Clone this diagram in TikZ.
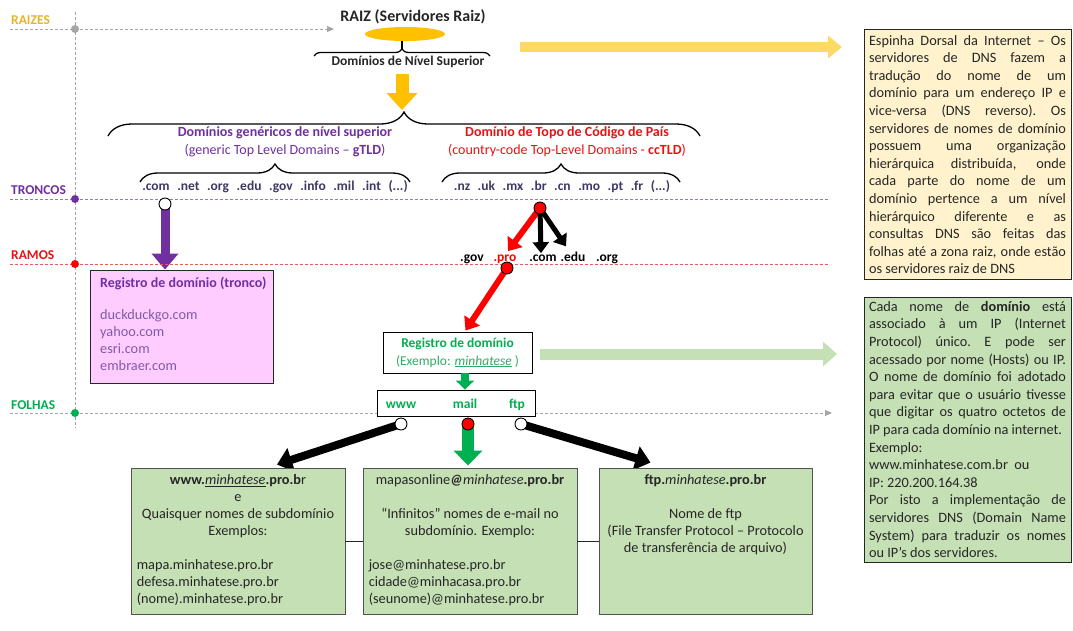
\documentclass[tikz,border=0pt]{standalone}
\usepackage{fontspec}
\setmainfont{Carlito}
\usetikzlibrary{arrows.meta,decorations.pathreplacing,calc,shapes.geometric}
\pgfdeclarelayer{back}
\pgfsetlayers{back,main}
\definecolor{cgold}{RGB}{230,180,40}
\definecolor{cyel}{RGB}{255,192,0}
\definecolor{cyellt}{RGB}{255,217,102}
\definecolor{cpur}{RGB}{112,48,160}
\definecolor{cpurlt}{RGB}{128,90,170}
\definecolor{cpurdash}{RGB}{150,120,190}
\definecolor{cred}{RGB}{230,20,20}
\definecolor{creddash}{RGB}{235,90,90}
\definecolor{cgrn}{RGB}{0,176,80}
\definecolor{cgrn2}{RGB}{50,170,100}
\definecolor{cgrnlt}{RGB}{197,224,180}
\definecolor{cpink}{RGB}{255,204,255}
\definecolor{ccream}{RGB}{255,242,204}
\definecolor{ctxt}{RGB}{38,38,38}
\definecolor{cdash}{RGB}{166,166,166}
\definecolor{ctld}{RGB}{64,56,100}
\newcommand\fs[2]{\fontsize{#1}{#2}\selectfont}
\newcommand\jl[1]{\makebox[197pt][s]{\spaceskip=0.226em plus 1fil\xspaceskip=0.226em plus 1fil\relax #1}}
\newcommand\nl[1]{\mbox{\spaceskip=0pt\xspaceskip=0pt\relax #1}}
\newcommand\gp{\hspace{7.6pt}}
\begin{document}
\begin{tikzpicture}[x=1pt,y=-1pt,
  lvl/.style={font=\fs{13.5}{16}\bfseries, anchor=west, inner sep=0},
  guide/.style={dash pattern=on 3pt off 2pt, line width=0.9pt},
  gdot/.style={circle, inner sep=0, minimum size=8pt},
  hole/.style={circle, draw=black, fill=white, line width=0.9pt, inner sep=0, minimum size=12pt},
  rdot/.style={hole, fill=red},
  brc/.style={decorate, decoration={brace, amplitude=#1}, line width=1.3pt},
  ttl/.style={font=\fs{14}{17}\bfseries, inner sep=0},
  subt/.style={font=\fs{14}{17}, inner sep=0},
  tld/.style={font=\fs{13.5}{17}\bfseries, text=ctld, inner sep=0},
  lf/.style={font=\fs{13.5}{17}\bfseries, inner sep=0, anchor=base},
  wbox/.style={draw=black, fill=white, line width=0.9pt, inner sep=0},
  gbox/.style={draw=ctxt!80, fill=cgrnlt, line width=0.9pt, inner sep=0},
  btxt/.style={font=\fs{14.3}{17}, text=ctxt, inner sep=0, align=center},
  rbox/.style={draw=ctxt, line width=0.9pt, text=ctxt, font=\fs{14.3}{17.6}, text width=197pt, inner xsep=5pt, align=left},
  purarrow/.style={draw=cpur, line width=9pt, -{Triangle[length=16pt,width=26pt]}},
  redarrow/.style={draw=red, line width=6pt, -{Triangle[length=12pt,width=18pt]}},
  blkarrow/.style={draw=black, line width=5pt, -{Triangle[length=11pt,width=16pt]}},
  bigblk/.style={draw=black, line width=8pt, -{Triangle[length=15pt,width=24pt]}},
  grnarrow/.style={draw=cgrn, line width=12pt, -{Triangle[length=15pt,width=28pt]}},
  smallgrn/.style={draw=cgrn, line width=8pt, -{Triangle[length=9pt,width=18pt]}},
  yelh/.style={draw=cyellt, line width=10pt, -{Triangle[length=14pt,width=22pt]}},
  grnh/.style={draw=cgrnlt, line width=11pt, -{Triangle[length=14pt,width=24pt]}},
  yeld/.style={draw=cyel, line width=13pt, -{Triangle[length=17pt,width=30pt]}}
]
\useasboundingbox (0,0) rectangle (1073,630);
\begin{pgfonlayer}{back}
\fill[white] (0,0) rectangle (1073,630);
\end{pgfonlayer}

% level labels
\node[lvl, text=cgold] (lraiz) at (11,20) {RAIZES};
\node[lvl, text=cpur] (ltron) at (11,190) {TRONCOS};
\node[lvl, text=cred] (lramo) at (11,255) {RAMOS};
\node[lvl, text=cgrn] (lfol) at (11,405) {FOLHAS};

% guide lines
\coordinate (vtop) at (75,12); \coordinate (vbot) at (75,428);
\draw[guide, draw=cdash] (vtop) -- (vbot);
\coordinate (r0) at (10,29); \coordinate (r1) at (334,29);
\draw[guide, draw=cdash, -{Triangle[length=7pt,width=6pt]}] (r0) -- (r1);
\coordinate (t0) at (10,199); \coordinate (t1) at (830,199);
\draw[guide, draw=cpurdash] (t0) -- (t1);
\coordinate (m0) at (10,264); \coordinate (m1) at (828,264);
\draw[guide, draw=creddash] (m0) -- (m1);
\coordinate (f0) at (10,413); \coordinate (f1) at (832,413);
\draw[guide, draw=cdash, -{Triangle[length=7pt,width=6pt]}] (f0) -- (f1);
\node[gdot, fill=cdash] (d1) at (75,29) {};
\node[gdot, fill=cpur] (d2) at (75,199) {};
\node[gdot, fill=red] (d3) at (75,264) {};
\node[gdot, fill=cgrn] (d4) at (75,413) {};

% root
\node[font=\fs{16}{19}\bfseries, text=ctxt, inner sep=0] (raiz) at (413,17) {RAIZ (Servidores Raiz)};
\node[ellipse, fill=cyel, minimum width=80pt, minimum height=14pt, inner sep=0] (ell) at (405,34) {};
\coordinate (bs0) at (314,56); \coordinate (bs1) at (490,56);
\draw[brc=7] (bs0) -- (bs1);
\coordinate (bstip) at (402,49);
\draw[line width=1.3pt] (bstip) -- (ell.south -| bstip);
\node[font=\fs{13.5}{16}\bfseries, text=ctxt, inner sep=0] (dns) at (408,62) {Domínios de Nível Superior};
\coordinate (yd0) at (402,74); \coordinate (yd1) at (402,110);
\draw[yeld] (yd0) -- (yd1);
\coordinate (ya0) at (520,47); \coordinate (ya1) at (842,47);
\draw[yelh] (ya0) -- (ya1);

% big brace and titles
\coordinate (bb0) at (108,136); \coordinate (bb1) at (700,136);
\draw[brc=24] (bb0) -- (bb1);
\node[ttl, text=cpur] (gt) at (285,133) {Domínios genéricos de nível superior};
\node[subt, text=cpur] (gs) at (285,151) {(generic Top Level Domains – \textbf{gTLD})};
\node[ttl, text=cred] (ct) at (567,133) {Domínio de Topo de Código de País};
\node[subt, text=cred] (cs) at (567,151) {(country-code Top-Level Domains - \textbf{ccTLD})};
\coordinate (sb0) at (140,182); \coordinate (sb1) at (410,182);
\draw[brc=18] (sb0) -- (sb1);
\coordinate (sc0) at (442,182); \coordinate (sc1) at (680,182);
\draw[brc=18] (sc0) -- (sc1);
\node[tld] (gl) at (275,187) {.com\gp.net\gp.org\gp.edu\gp.gov\gp.info\gp.mil\gp.int\gp(...)};
\node[tld] (cl) at (562,187) {.nz\gp.uk\gp.mx\gp.br\gp.cn\gp.mo\gp.pt\gp.fr\gp(...)};

% purple branch
\node[hole] (c1) at (165,204) {};
\node[draw=ctxt, fill=cpink, line width=0.9pt, minimum width=183pt, minimum height=113pt, inner sep=0] (pink) at (181.5,326.5) {};
\node[font=\fs{14}{17}\bfseries, text=cpur, anchor=west, inner sep=0] (ptt) at (100,283) {Registro de domínio (tronco)};
\node[font=\fs{14.3}{17}, text=cpurlt, anchor=north west, align=left, inner sep=0] (pl) at (100,309) {duckduckgo.com\\yahoo.com\\esri.com\\embraer.com};
\begin{pgfonlayer}{back}
\draw[purarrow] (c1.center) -- (c1 |- pink.north);
\end{pgfonlayer}

% ccTLD branch
\node[rdot] (rd1) at (540,208) {};
\node[lf] (gov) at (472,261) {.gov};
\node[lf, text=red] (pro) at (505,261) {.pro};
\node[lf] (com) at (543,261) {.com};
\node[lf] (edu) at (573,261) {.edu};
\node[lf] (org) at (607,261) {.org};
\node[rdot] (rd2) at (507,268) {};
\node[wbox, minimum width=149pt, minimum height=41pt, align=center, font=\fs{13.5}{18}] (reg) at (457.5,352.5) {\textcolor{cgrn}{\textbf{Registro de domínio}}\\\textcolor{cgrn2}{(Exemplo: \underline{\textit{minhatese}} )}};
\node[wbox, minimum width=158pt, minimum height=26pt] (wb) at (456,403) {};
\node[lf, text=cgrn] (www) at (401,408) {www};
\node[lf, text=cgrn] (mail) at (465,408) {mail};
\node[lf, text=cgrn] (ftp) at (517,408) {ftp};
\coordinate (ga0) at (540,354); \coordinate (ga1) at (837,354);
\draw[grnh] (ga0) -- (ga1);

% leaves
\node[hole] (cw) at (401,424) {};
\node[rdot] (cm) at (468,424) {};
\node[hole] (cf) at (521,424) {};
\node[gbox, minimum width=214pt, minimum height=146pt] (b1) at (238,541) {};
\node[gbox, minimum width=214pt, minimum height=146pt] (b2) at (470,541) {};
\node[gbox, minimum width=213pt, minimum height=146pt] (b3) at (705.5,541) {};
\draw[line width=0.9pt, ctxt] (b1.east) -- (b2.west);
\draw[line width=0.9pt, ctxt] (b2.east) -- (b3.west);

\begin{pgfonlayer}{back}
\draw[redarrow] (rd1.center) -- ($(pro.north)+(3,-3)$);
\draw[blkarrow] (rd1.center) -- ($(com.north)+(-2,-1)$);
\draw[blkarrow] (rd1.center) -- ($(edu.north)+(-7,-5)$);
\draw[redarrow] (rd2.center) -- ($(reg.north)+(8,-1)$);
\draw[bigblk] (cw.center) -- ($(b1.north)+(39,-3)$);
\draw[grnarrow] (cm.center) -- ($(cm |- b2.north)+(0,-2)$);
\draw[bigblk] (cf.center) -- ($(b3.north)+(-55,-5)$);
\end{pgfonlayer}
\draw[smallgrn] ($(reg.south)+(7.5,0)$) -- ($(wb.north)+(9,0)$);

\node[btxt, anchor=north] (b1a) at ($(b1.north)+(0,7)$) {\textbf{www.}\underline{\textit{minhatese}}\textbf{.pro.b}r\\e\\Quaisquer nomes de subdomínio\\Exemplos:};
\node[btxt, anchor=north west, align=left] (b1b) at ($(b1.north west)+(6,92)$) {mapa.minhatese.pro.br\\defesa.minhatese.pro.br\\(nome).minhatese.pro.br};
\node[btxt, anchor=north] (b2a) at ($(b2.north)+(0,7)$) {mapasonline\textbf{\textit{@}}\textit{minhatese}\textbf{.pro.br}\\[17pt]“Infinitos” nomes de e-mail no\\subdomínio. Exemplo:};
\node[btxt, anchor=north west, align=left] (b2b) at ($(b2.north west)+(6,92)$) {jose@minhatese.pro.br\\cidade@minhacasa.pro.br\\(seunome)@minhatese.pro.br};
\node[btxt, anchor=north] (b3a) at ($(b3.north)+(0,7)$) {\textbf{ftp.}\textit{minhatese}\textbf{.pro.br}\\[17pt]Nome de ftp\\(File Transfer Protocol – Protocolo\\de transferência de arquivo)};

% right text boxes
\node[rbox, fill=ccream, minimum height=250pt] (rb1) at (967.5,154.5) {\jl{Espinha Dorsal da Internet – Os}\\
\jl{servidores de DNS fazem a}\\
\jl{tradução do nome de um}\\
\jl{domínio para um endereço IP e}\\
\jl{vice-versa (DNS reverso). Os}\\
\jl{servidores de nomes de domínio}\\
\jl{possuem uma organização}\\
\jl{hierárquica distribuída, onde}\\
\jl{cada parte do nome de um}\\
\jl{domínio pertence a um nível}\\
\jl{hierárquico diferente e as}\\
\jl{consultas DNS são feitas das}\\
\jl{folhas até a zona raiz, onde estão}\\
\nl{os servidores raiz de DNS}};
\node[rbox, fill=cgrnlt, minimum height=265pt] (rb2) at (967.5,429.5) {\jl{Cada nome de \textbf{domínio} está}\\
\jl{associado à um IP (Internet}\\
\jl{Protocol) único. E pode ser}\\
\jl{acessado por nome (Hosts) ou IP.}\\
\jl{O nome de domínio foi adotado}\\
\jl{para evitar que o usuário tivesse}\\
\jl{que digitar os quatro octetos de}\\
\nl{IP para cada domínio na internet.}\\
\nl{Exemplo:}\\
\nl{www.minhatese.com.br\ \ ou}\\
\nl{IP: 220.200.164.38}\\
\jl{Por isto a implementação de}\\
\jl{servidores DNS (Domain Name}\\
\jl{System) para traduzir os nomes}\\
\nl{ou IP’s dos servidores.}};
\end{tikzpicture}
\end{document}
